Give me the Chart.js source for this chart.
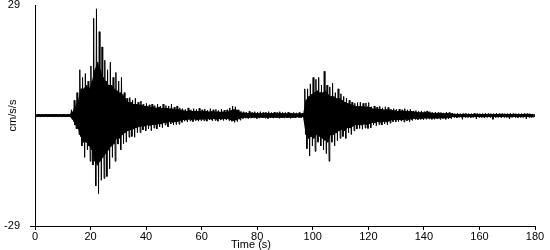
<!DOCTYPE html>
<html>
<head>
<meta charset="utf-8">
<script src="https://cdn.jsdelivr.net/npm/chart.js@4"></script>
<style>
  html, body { margin: 0; padding: 0; background: #fff; }
  #wrap { width: 550px; height: 250px; }
</style>
</head>
<body>
<div id="wrap"><canvas id="seis"></canvas></div>
<script>
// peak values per 1 s window (cm/s/s)
var peakHigh = [
  0.3, 0.4, 0.3, 0.3, 0.4, 0.3, 0.3, 0.4, 0.3, 0.3,
  0.4, 0.3, 0.4, 1.5, 4, 6, 12, 10, 11, 9,
  13, 25.5, 28, 22, 18, 14.5, 12, 14, 10, 11.3,
  9, 10, 6, 4.5, 4.7, 4, 4.5, 3.5, 3.8, 3,
  3.2, 2.8, 3, 2.6, 3, 2.5, 3, 2.6, 2.5, 3,
  2.2, 2.5, 2, 1.8, 1.6, 2, 1.5, 1.8, 1.6, 1.9,
  1.5, 1.7, 1.4, 1.8, 1.5, 1.6, 1.3, 1.7, 1.4, 1.5,
  2, 2.5, 2.3, 1.5, 1.1, 1, 0.9, 1.1, 0.8, 1,
  0.9, 1, 0.8, 0.9, 1, 0.8, 0.9, 0.8, 1, 0.8,
  0.8, 0.9, 0.7, 0.8, 0.7, 0.8, 0.6, 7, 7, 8.3,
  10, 9.5, 10, 8, 11.6, 8, 7.5, 8.5, 6, 7,
  5.7, 5, 4.5, 4, 3.5, 3.2, 3.4, 3.5, 3.2, 3.3,
  3.4, 2.3, 2.5, 2.2, 2.4, 2, 2.3, 2.1, 1.7, 1.8,
  1.6, 1.7, 1.5, 1.8, 1.5, 1.6, 1.2, 1.3, 1.1, 1.2,
  1, 1.2, 1, 0.8, 0.9, 0.8, 0.8, 0.7, 0.9, 0.8,
  0.6, 0.5, 0.6, 0.5, 0.5, 0.6, 0.5, 0.5, 0.6, 0.5,
  0.5, 0.5, 0.6, 0.5, 0.5, 0.5, 0.6, 0.5, 0.5, 0.5,
  0.5, 0.6, 0.5, 0.5, 0.5, 0.5, 0.5, 0.5, 0.5, 0.4
];

var peakLow = [
  -0.3, -0.3, -0.4, -0.3, -0.3, -0.4, -0.3, -0.3, -0.3, -0.4,
  -0.3, -0.3, -0.3, -1.5, -3.5, -5, -8, -11, -9, -12,
  -13, -18.5, -20.5, -17, -16.5, -16, -14, -11, -12, -7.5,
  -9, -7.4, -7, -5.7, -5.5, -5.7, -4.5, -4.5, -3.8, -4,
  -3.5, -4, -3.3, -3.5, -3, -3.2, -2.5, -3, -2.2, -2.5,
  -2.4, -2.3, -1.8, -1.5, -1.7, -1.4, -1.6, -1.3, -1.5, -1.4,
  -1.4, -1.5, -1.2, -1.4, -1.3, -1.5, -1.2, -1.3, -1.2, -1.3,
  -1.5, -1.8, -1.6, -1.2, -0.8, -0.7, -0.8, -0.7, -0.6, -0.8,
  -0.7, -0.6, -0.7, -0.8, -0.6, -0.7, -0.6, -0.7, -0.6, -0.7,
  -0.6, -0.7, -0.6, -0.6, -0.5, -0.6, -0.5, -8.7, -10.6, -8,
  -9.4, -7, -8, -9, -10, -12, -7, -8, -6.6, -6,
  -5.5, -6, -4.5, -5, -4, -3.5, -3.4, -3.6, -3.3, -3.4,
  -3.2, -2.5, -2.7, -2.4, -2.5, -2.2, -2.4, -2, -1.6, -1.7,
  -1.6, -1.5, -1.7, -1.4, -1.6, -1.3, -1, -1.1, -1, -1.1,
  -1, -0.9, -1, -1, -0.9, -1, -0.8, -1, -0.9, -0.8,
  -0.5, -0.6, -0.5, -1, -0.5, -0.5, -0.6, -0.5, -0.9, -0.5,
  -0.5, -0.6, -0.5, -0.5, -1, -0.5, -0.5, -0.6, -0.5, -0.5,
  -0.9, -0.5, -0.5, -0.6, -0.5, -0.5, -0.9, -0.5, -0.5, -0.4
];

// typical swing inside each window (the solid black body of the trace)
var bodyHigh = [
  0.3, 0.3, 0.3, 0.3, 0.3, 0.3, 0.3, 0.3, 0.3, 0.3,
  0.3, 0.3, 0.3, 1, 2.5, 4, 7, 7, 8, 7,
  9, 12, 14, 12, 10, 9, 8, 8, 7, 6.5,
  6, 5.5, 4.5, 3.5, 3.5, 3, 3, 2.8, 2.8, 2.5,
  2.4, 2.2, 2.3, 2, 2.2, 2, 2, 1.9, 1.8, 1.8,
  1.6, 1.6, 1.5, 1.3, 1.2, 1.3, 1.1, 1.2, 1.1, 1.2,
  1.1, 1.1, 1, 1.1, 1, 1, 0.9, 1, 0.9, 1,
  1.3, 1.6, 1.5, 1, 0.7, 0.7, 0.6, 0.7, 0.6, 0.6,
  0.6, 0.6, 0.6, 0.6, 0.6, 0.6, 0.6, 0.6, 0.6, 0.6,
  0.5, 0.6, 0.5, 0.5, 0.5, 0.5, 0.4, 4, 5, 5.5,
  6, 6.5, 6, 6, 6.5, 5.5, 5, 5, 4.5, 4.5,
  4, 3.5, 3.2, 3, 2.6, 2.4, 2.4, 2.4, 2.3, 2.3,
  2.2, 1.8, 1.8, 1.7, 1.7, 1.5, 1.6, 1.5, 1.3, 1.3,
  1.2, 1.2, 1.1, 1.2, 1.1, 1.1, 0.9, 0.9, 0.8, 0.8,
  0.8, 0.8, 0.7, 0.6, 0.6, 0.6, 0.6, 0.5, 0.6, 0.5,
  0.4, 0.4, 0.4, 0.4, 0.4, 0.4, 0.4, 0.4, 0.4, 0.4,
  0.4, 0.4, 0.4, 0.4, 0.4, 0.4, 0.4, 0.4, 0.4, 0.4,
  0.4, 0.4, 0.4, 0.4, 0.4, 0.4, 0.4, 0.4, 0.4, 0.4
];

var bodyLow = [
  -0.3, -0.3, -0.3, -0.3, -0.3, -0.3, -0.3, -0.3, -0.3, -0.3,
  -0.3, -0.3, -0.3, -1, -2.5, -3.5, -5.5, -7, -7, -8,
  -9, -12, -13, -12, -11, -10, -9, -8, -7.5, -6,
  -6, -5, -4.5, -4, -3.8, -3.5, -3.2, -3, -2.8, -2.8,
  -2.5, -2.6, -2.4, -2.4, -2.2, -2.2, -1.9, -2, -1.7, -1.8,
  -1.7, -1.6, -1.3, -1.1, -1.2, -1, -1.1, -1, -1.1, -1,
  -1, -1, -0.9, -1, -0.9, -1, -0.9, -0.9, -0.9, -0.9,
  -1.1, -1.3, -1.2, -0.9, -0.6, -0.5, -0.6, -0.5, -0.5, -0.5,
  -0.5, -0.5, -0.5, -0.5, -0.5, -0.5, -0.5, -0.5, -0.5, -0.5,
  -0.5, -0.5, -0.5, -0.5, -0.4, -0.5, -0.4, -5, -6, -5.5,
  -6, -5, -5.5, -6, -6.5, -7, -5, -5, -4.5, -4,
  -3.8, -4, -3.2, -3.3, -2.8, -2.5, -2.4, -2.5, -2.3, -2.4,
  -2.2, -1.8, -1.9, -1.7, -1.8, -1.6, -1.7, -1.5, -1.2, -1.2,
  -1.1, -1.1, -1.2, -1, -1.1, -1, -0.8, -0.8, -0.8, -0.8,
  -0.7, -0.7, -0.7, -0.7, -0.7, -0.7, -0.6, -0.7, -0.6, -0.6,
  -0.4, -0.4, -0.4, -0.4, -0.4, -0.4, -0.4, -0.4, -0.4, -0.4,
  -0.4, -0.4, -0.4, -0.4, -0.4, -0.4, -0.4, -0.4, -0.4, -0.4,
  -0.4, -0.4, -0.4, -0.4, -0.4, -0.4, -0.4, -0.4, -0.4, -0.4
];

var xTicks = [0, 20, 40, 60, 80, 100, 120, 140, 160, 180];
var yTicks = [-29, 29];
var xTitle = "Time (s)";
var yTitle = "cm/s/s";

// four swings per window: peak up, body down, body up, peak down
var trace = [];
var bodyTop = [];
var bodyBottom = [];
for (var i = 0; i < peakHigh.length; i++) {
  trace.push({x: i + 0.125, y: peakHigh[i]});
  trace.push({x: i + 0.375, y: bodyLow[i]});
  trace.push({x: i + 0.625, y: bodyHigh[i]});
  trace.push({x: i + 0.875, y: peakLow[i]});
  bodyTop.push({x: i + 0.5, y: bodyHigh[i]});
  bodyBottom.push({x: i + 0.5, y: bodyLow[i]});
}

var font = {family: "'Liberation Sans', Arial, sans-serif", size: 11};

// axis titles placed where the original has them
var titles = {
  id: "titles",
  afterDraw(chart) {
    var ctx = chart.ctx;
    ctx.save();
    ctx.fillStyle = "#000";
    ctx.font = "11px 'Liberation Sans', Arial, sans-serif";
    ctx.textAlign = "center";
    ctx.textBaseline = "middle";
    ctx.fillText(xTitle, 251, 245);
    ctx.translate(13, (chart.chartArea.top + chart.chartArea.bottom) / 2);
    ctx.rotate(-Math.PI / 2);
    ctx.fillText(yTitle, 0, 0);
    ctx.restore();
  }
};

new Chart(document.getElementById("seis"), {
  type: "line",
  data: {
    datasets: [{
      data: trace,
      borderColor: "#000",
      borderWidth: 1,
      pointRadius: 0,
      tension: 0,
      fill: false
    }, {
      data: bodyTop,
      borderWidth: 0,
      borderColor: "rgba(0,0,0,0)",
      backgroundColor: "#000",
      pointRadius: 0,
      tension: 0,
      fill: "+1"
    }, {
      data: bodyBottom,
      borderWidth: 0,
      borderColor: "rgba(0,0,0,0)",
      pointRadius: 0,
      tension: 0,
      fill: false
    }]
  },
  options: {
    responsive: true,
    maintainAspectRatio: false,
    animation: false,
    layout: {padding: {top: 5, right: 15, left: 0, bottom: 0}},
    plugins: {legend: {display: false}, tooltip: {enabled: false}},
    scales: {
      x: {
        type: "linear",
        min: 0,
        max: 180,
        afterBuildTicks: s => { s.ticks = xTicks.map(v => ({value: v})); },
        afterFit: s => { s.height = 24; s.paddingLeft = 0; s.paddingRight = 0; },
        border: {display: true, color: "#000", width: 1},
        grid: {drawOnChartArea: false, color: "#000", tickLength: 4},
        ticks: {color: "#000", font: font, padding: 0, maxRotation: 0}
      },
      y: {
        min: -29,
        max: 29,
        afterBuildTicks: s => { s.ticks = yTicks.map(v => ({value: v})); },
        afterFit: s => { s.width = 35; s.paddingTop = 0; s.paddingBottom = 0; },
        border: {display: true, color: "#000", width: 1},
        grid: {
          drawOnChartArea: false,
          tickLength: 5,
          tickColor: c => (c.tick && c.tick.value === -29) ? "#000" : "rgba(0,0,0,0)"
        },
        ticks: {color: "#000", font: font, padding: 10}
      }
    }
  },
  plugins: [titles]
});
</script>
</body>
</html>
